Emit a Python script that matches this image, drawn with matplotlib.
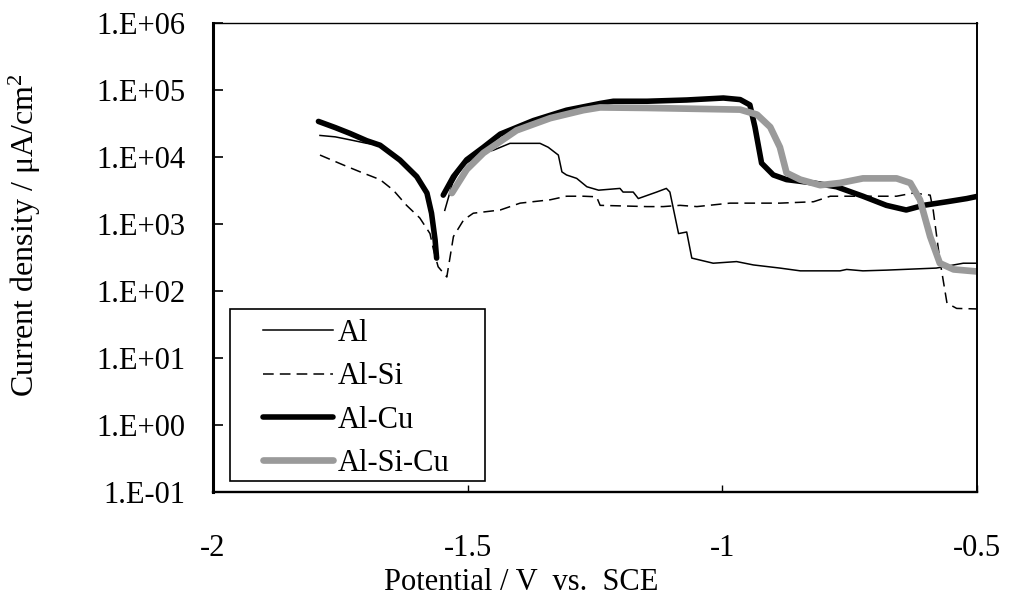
import numpy as np
import matplotlib.pyplot as plt
from matplotlib.patches import Rectangle

plt.rcParams['font.family'] = ['Liberation Serif', 'DejaVu Serif']
plt.rcParams['mathtext.fontset'] = 'stix'

nan = np.nan

# polarization curves, potential (V vs SCE) and current density (uA/cm2)
# nan separates the cathodic and anodic branches
al_x = [-1.790, -1.760, -1.730, -1.698, -1.672, -1.633, -1.600, -1.580, -1.571, -1.564,
        nan,
        -1.545, -1.530, -1.510, -1.483, -1.463, -1.450, -1.417, -1.358, -1.342, -1.322,
        -1.315, -1.306, -1.286, -1.266, -1.243, -1.201, -1.195, -1.175, -1.165, -1.129,
        -1.110, -1.103, -1.086, -1.070, -1.060, -1.018, -0.972, -0.939, -0.887, -0.847,
        -0.769, -0.756, -0.724, -0.678, -0.580, -0.527, -0.500]
al_y = [2.1e4, 2.0e4, 1.8e4, 1.6e4, 1.5e4, 9.0e3, 5.1e3, 2.9e3, 1.45e3, 6.0e2,
        nan,
        1.6e3, 4.0e3, 7.5e3, 1.0e4, 1.2e4, 1.26e4, 1.6e4, 1.6e4, 1.4e4, 1.07e4,
        6.0e3, 5.4e3, 4.8e3, 3.6e3, 3.2e3, 3.4e3, 3.0e3, 3.0e3, 2.4e3, 3.0e3,
        3.4e3, 3.0e3, 7.2e2, 7.6e2, 3.1e2, 2.6e2, 2.75e2, 2.45e2, 2.2e2, 2.0e2,
        2.0e2, 2.1e2, 2.0e2, 2.05e2, 2.2e2, 2.6e2, 2.6e2]

alsi_x = [-1.790, -1.744, -1.711, -1.672, -1.646, -1.620, -1.594, -1.574, -1.567, -1.558,
          -1.541, -1.528, -1.508, -1.489, -1.436, -1.397, -1.338, -1.306, -1.273, -1.247,
          -1.240, -1.148, -1.116, -1.083, -1.050, -0.985, -0.887, -0.821, -0.788, -0.658,
          -0.625, -0.592, -0.586, -0.573, -0.559, -0.540, -0.500]
alsi_y = [1.07e4, 7.6e3, 6.0e3, 4.6e3, 3.2e3, 1.9e3, 1.23e3, 7.2e2, 4.1e2, 2.3e2,
          1.62e2, 6.5e2, 1.15e3, 1.45e3, 1.62e3, 2.05e3, 2.3e3, 2.6e3, 2.6e3, 2.55e3,
          1.9e3, 1.82e3, 1.82e3, 1.9e3, 1.82e3, 2.05e3, 2.05e3, 2.15e3, 2.6e3, 2.6e3,
          2.9e3, 2.7e3, 1.6e3, 2.9e2, 6.6e1, 5.5e1, 5.4e1]

alcu_x = [-1.793, -1.760, -1.731, -1.698, -1.672, -1.633, -1.600, -1.580, -1.571, -1.564,
          -1.561,
          nan,
          -1.548, -1.528, -1.502, -1.469, -1.436, -1.371, -1.306, -1.240, -1.214, -1.148,
          -1.070, -0.998, -0.965, -0.946, -0.936, -0.923, -0.900, -0.874, -0.821, -0.776,
          -0.724, -0.678, -0.639, -0.605, -0.559, -0.520, -0.498]
alcu_y = [3.4e4, 2.75e4, 2.25e4, 1.75e4, 1.5e4, 9.0e3, 5.1e3, 2.9e3, 1.45e3, 5.8e2,
          3.1e2,
          nan,
          2.7e3, 5.1e3, 9.1e3, 1.4e4, 2.2e4, 3.5e4, 5.0e4, 6.3e4, 6.8e4, 6.8e4,
          7.1e4, 7.6e4, 7.2e4, 6.0e4, 2.8e4, 8.1e3, 5.4e3, 4.6e3, 4.1e3, 3.6e3,
          2.6e3, 1.9e3, 1.62e3, 1.9e3, 2.15e3, 2.4e3, 2.6e3]

alsicu_x = [-1.531, -1.502, -1.469, -1.404, -1.338, -1.273, -1.240, -1.148, -0.965, -0.932,
            -0.906, -0.887, -0.874, -0.847, -0.808, -0.769, -0.724, -0.658, -0.631, -0.612,
            -0.592, -0.573, -0.546, -0.498]
alsicu_y = [2.9e3, 6.5e3, 1.15e4, 2.5e4, 3.8e4, 5.0e4, 5.5e4, 5.4e4, 5.1e4, 4.3e4,
            2.8e4, 1.4e4, 5.8e3, 4.6e3, 3.8e3, 4.1e3, 4.8e3, 4.8e3, 4.1e3, 2.3e3,
            6.5e2, 2.6e2, 2.1e2, 1.95e2]

ytick_vals = [1e-1, 1e0, 1e1, 1e2, 1e3, 1e4, 1e5, 1e6]
ytick_labels = ['1.E-01', '1.E+00', '1.E+01', '1.E+02', '1.E+03', '1.E+04', '1.E+05', '1.E+06']
xtick_vals = [-2, -1.5, -1, -0.5]
xtick_labels = ['-2', '-1.5', '-1', '-0.5']

fig = plt.figure(figsize=(10.11, 6.06), dpi=100)
ax = fig.add_axes([0.2107, 0.1881, 0.7557, 0.7739])

ax.plot(al_x, al_y, color='black', lw=1.1, label='Al')
ax.plot(alsi_x, alsi_y, color='black', lw=1.1, dashes=(7, 4), label='Al-Si')
ax.plot(alcu_x, alcu_y, color='black', lw=4.0, solid_capstyle='round', label='Al-Cu')
ax.plot(alsicu_x, alsicu_y, color='#9a9a9a', lw=4.8, solid_capstyle='round', label='Al-Si-Cu')

ax.set_yscale('log')
ax.set_xlim(-2, -0.5)
ax.set_ylim(1e-1, 1e6)
ax.set_yticks(ytick_vals)
ax.set_yticklabels(ytick_labels)
ax.minorticks_off()
ax.set_xticks(xtick_vals)
ax.set_xticklabels(xtick_labels)
ax.tick_params(axis='y', direction='in', length=7, width=1.2, labelsize=22, pad=20)
ax.tick_params(axis='x', direction='in', length=5, width=1.0, labelsize=22, pad=30)
ax.spines['top'].set_linewidth(1.0)
ax.spines['right'].set_linewidth(1.4)
ax.spines['left'].set_linewidth(2.2)
ax.spines['bottom'].set_linewidth(1.7)

ax.set_xlabel('Potential / V  vs.  SCE', fontsize=22, labelpad=4)
ax.xaxis.label.set_x(0.403)
ax.set_ylabel('Current density / $\\mathregular{\\mu A/cm^2}$', fontsize=23)
ax.yaxis.set_label_coords(-0.2225, 0.548)

# legend entries without frame, box drawn separately
leg = ax.legend(loc='upper left', bbox_to_anchor=(0.2601, 0.4736), bbox_transform=fig.transFigure,
                borderaxespad=0, borderpad=0, fontsize=22, frameon=False,
                handlelength=2.3, handletextpad=0.15, labelspacing=0.47)
fig.patches.append(Rectangle((0.2275, 0.2063), 0.2522, 0.2838, transform=fig.transFigure,
                             fill=False, edgecolor='black', lw=1.2, zorder=5))

fig.savefig('out.png', dpi=100)
